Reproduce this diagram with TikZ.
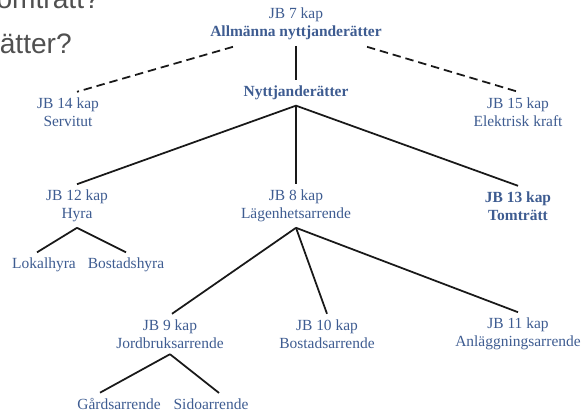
\documentclass[tikz,border=0pt]{standalone}
\usepackage{fontspec}
\setmainfont{Liberation Serif}
\newfontfamily\slidefont{Liberation Sans}
\usetikzlibrary{calc}
\definecolor{lawblue}{RGB}{62,92,145}
\definecolor{slidegray}{RGB}{80,80,80}
\tikzset{%
	law/.style       = {text=lawblue, align=center, font=\fontsize{11}{13}\selectfont, inner sep=1pt, outer sep=3pt},
	lawbold/.style   = {law, font=\fontsize{11}{13}\selectfont\bfseries},
	branch/.style    = {line width=1.25pt, black!90},
	loose/.style     = {branch, dash pattern=on 6pt off 3.5pt},
	slidetext/.style = {text=slidegray, font=\fontsize{20}{24}\selectfont\slidefont, inner sep=0pt},
}

\begin{document}
\begin{tikzpicture}[x=0.025cm, y=-0.025cm]
	\useasboundingbox (0,0) rectangle (584,414);
	\clip (0,0) rectangle (584,414);
	
	% slide text behind the tree
	\node[slidetext, anchor=base east] (q1) at (100,9) {omträtt?};
	\node[slidetext, anchor=base east] (q2) at (72,53) {ätter?};
	
	\node[law] (jb7) at (296,24) {JB 7 kap\\\textbf{Allmänna nyttjanderätter}};
	\node[lawbold] (nyttj) at (296,93) {Nyttjanderätter};
	\node[law] (jb14) at (68,112) {JB 14 kap\\Servitut};
	\node[law] (jb15) at (518,112) {JB 15 kap\\Elektrisk kraft};
	
	\node[law] (jb12) at (77,206) {JB 12 kap\\Hyra};
	\node[law] (jb8) at (296,206) {JB 8 kap\\Lägenhetsarrende};
	\node[lawbold] (jb13) at (518,206) {JB 13 kap\\Tomträtt};
	\node[law] (lokal) at (44,265) {Lokalhyra};
	\node[law] (bostadh) at (126,265) {Bostadshyra};
	
	\node[law] (jb9) at (170,334) {JB 9 kap\\Jordbruksarrende};
	\node[law] (jb10) at (327,334) {JB 10 kap\\Bostadsarrende};
	\node[law] (jb11) at (518,334) {JB 11 kap\\Anläggningsarrende};
	\node[law] (gard) at (119,404) {Gårdsarrende};
	\node[law] (sido) at (211,404) {Sidoarrende};
	
	\draw[branch] (jb7) -- (nyttj);
	\draw[loose] ($(jb7.south)+(-63,1)$) -- ($(jb14.north)+(9,0)$);
	\draw[loose] ($(jb7.south)+(71,1)$) -- (jb15.north);
	
	\draw[branch] (nyttj.south) -- (jb12.north);
	\draw[branch] (nyttj.south) -- (jb8.north);
	\draw[branch] (nyttj.south) -- (jb13.north);
	
	\draw[branch] (jb12.south) -- ($(lokal.north)+(-7,0)$);
	\draw[branch] (jb12.south) -- (bostadh.north);
	
	\draw[branch] (jb8.south) -- ($(jb9.north)+(2,0)$);
	\draw[branch] (jb8.south) -- (jb10.north);
	\draw[branch] (jb8.south) -- (jb11.north);
	
	\draw[branch] (jb9.south) -- ($(gard.north)+(-19,0)$);
	\draw[branch] (jb9.south) -- ($(sido.north)+(8,0)$);
\end{tikzpicture}
\end{document}
